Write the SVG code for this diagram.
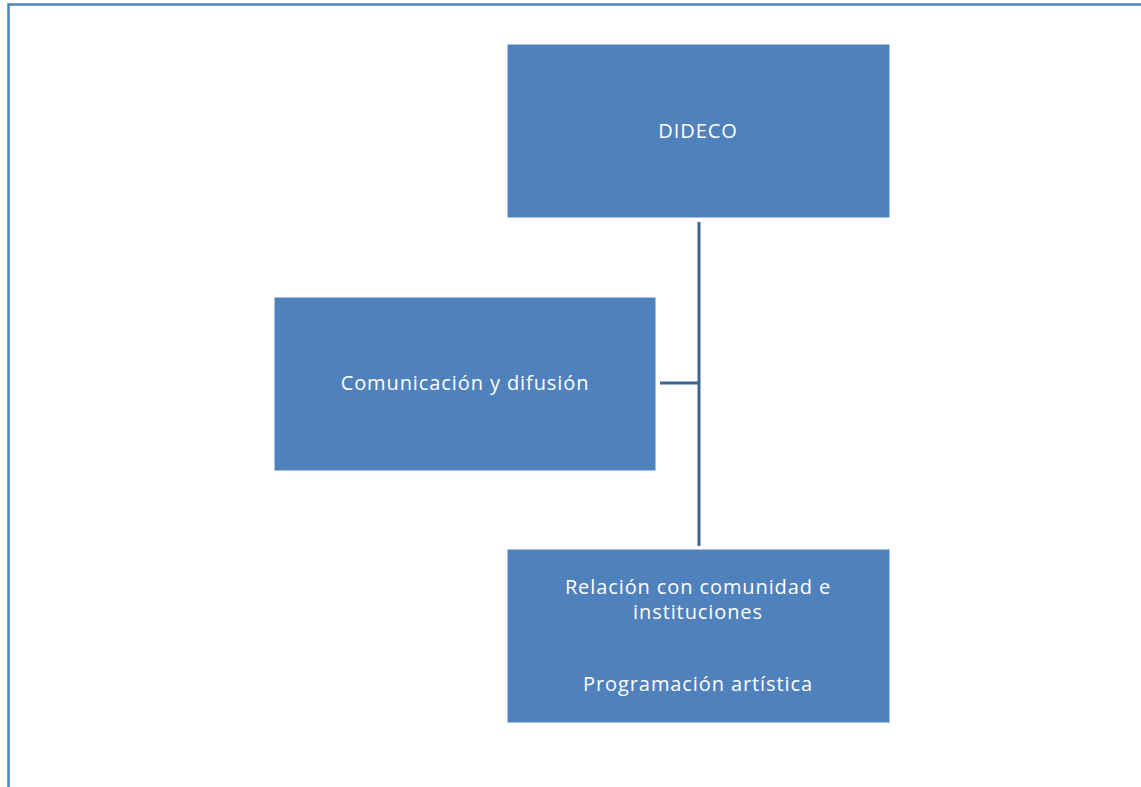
<svg xmlns="http://www.w3.org/2000/svg" width="1141" height="787" viewBox="0 0 1141 787">
<style>
.box{fill:#4F81BD;stroke:#ffffff;stroke-width:1}
.t{font-family:"Open Sans","Liberation Sans",sans-serif;font-size:20px;letter-spacing:0.9px;fill:#ffffff;text-anchor:middle}
.c{stroke:#3F6496;stroke-width:3;fill:none}
</style>
<rect x="0" y="0" width="1141" height="787" fill="#ffffff"/>
<path d="M8.5,787 V4.5 H1141" fill="none" stroke="#4F81BD" stroke-width="2.5"/>
<g id="connectors">
<line class="c" x1="699" y1="222" x2="699" y2="546"/>
<line class="c" x1="660" y1="383" x2="699" y2="383"/>
</g>
<g id="dideco">
<rect class="box" x="507" y="44" width="383" height="174"/>
<text class="t" x="698" y="138">DIDECO</text>
</g>
<g id="comunicacion">
<rect class="box" x="274" y="297" width="382" height="174"/>
<text class="t" x="465" y="390">Comunicación y difusión</text>
</g>
<g id="relacion">
<rect class="box" x="507" y="549" width="383" height="174"/>
<text class="t" x="698" y="594">Relación con comunidad e</text>
<text class="t" x="698" y="619">instituciones</text>
<text class="t" x="698" y="691">Programación artística</text>
</g>
</svg>
